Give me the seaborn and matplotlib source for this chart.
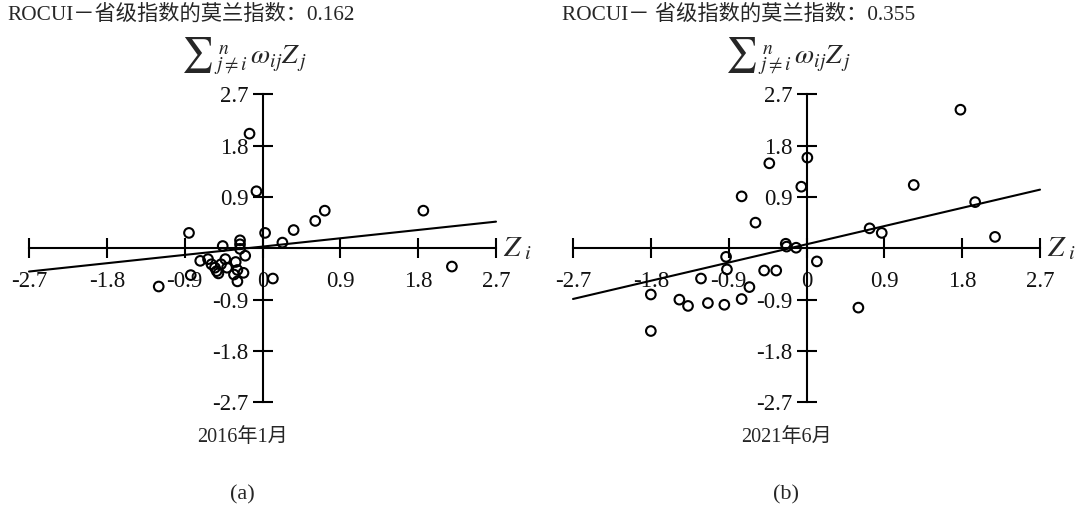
import numpy as np
import pandas as pd
import matplotlib
matplotlib.use("Agg")
import matplotlib.pyplot as plt
import seaborn as sns

# Standardised index (Z_i) and spatial lag (sum_j w_ij Z_j), 2016-01
z_2016 = [-0.15, -0.07, 0.03, 0.23, 0.36, 0.61, 0.72, 1.86, 2.19, 0.12,
          -0.85, -1.20, -0.46, -0.26, -0.26, -0.26, -0.20,
          -0.72, -0.63, -0.59, -0.55, -0.53, -0.51, -0.48, -0.43, -0.41,
          -0.31, -0.29, -0.22, -0.33, -0.29, -0.83]
lag_2016 = [2.01, 1.00, 0.27, 0.10, 0.32, 0.48, 0.66, 0.66, -0.32, -0.53,
            0.27, -0.67, 0.04, 0.14, 0.07, -0.01, -0.13,
            -0.22, -0.19, -0.28, -0.34, -0.40, -0.44, -0.28, -0.19, -0.34,
            -0.24, -0.38, -0.43, -0.46, -0.58, -0.47]

# Standardised index and spatial lag, 2021-06
z_2021 = [1.78, -0.43, 0.01, -0.06, -0.75, -0.59, -0.24, -0.23, -0.12, 0.12,
          -0.93, -0.92, -1.22, -0.49, -0.35, -0.66, -1.80, -1.47, -1.37, -1.14,
          -0.95, -0.75, 1.24, 1.95, 0.73, 0.87, 2.18, 0.60, -1.80]
lag_2021 = [2.43, 1.49, 1.59, 1.08, 0.91, 0.45, 0.08, 0.03, 0.01, -0.23,
            -0.15, -0.37, -0.53, -0.39, -0.39, -0.68, -0.81, -0.90, -1.01, -0.96,
            -0.99, -0.89, 1.11, 0.81, 0.35, 0.27, 0.20, -1.04, -1.45]

moran_i = [0.162, 0.355]
intercepts = [0.03, 0.07]
titles = ["ROCUI－省级指数的莫兰指数：0.162", "ROCUI－ 省级指数的莫兰指数：0.355"]
periods = ["2016年1月", "2021年6月"]
panel_tags = ["(a)", "(b)"]
tick_vals = [-2.7, -1.8, -0.9, 0, 0.9, 1.8, 2.7]
tick_text = ["-2.7", "-1.8", "-0.9", "0", "0.9", "1.8", "2.7"]

sns.set_theme(style="white")
plt.rcParams["font.family"] = ["Liberation Serif", "Noto Sans CJK SC"]
plt.rcParams["mathtext.fontset"] = "stix"
plt.rcParams["axes.unicode_minus"] = False

fig = plt.figure(figsize=(10.75, 5.08), dpi=100)
W, H = 1075.0, 508.0

panels = [
    (pd.DataFrame({"z": z_2016, "lag": lag_2016}), 29.0, 7.0),
    (pd.DataFrame({"z": z_2021, "lag": lag_2021}), 573.0, 562.0),
]

for k, (df, left_px, title_px) in enumerate(panels):
    width_px = 467.0
    ax = fig.add_axes([left_px / W, (H - 402.3) / H, width_px / W, 308.0 / H])
    ax.set_facecolor("none")
    ax.set_xlim(-2.7, 2.7)
    ax.set_ylim(-2.7, 2.7)

    for side in ("top", "right"):
        ax.spines[side].set_visible(False)
    for side in ("left", "bottom"):
        ax.spines[side].set_position(("data", 0))
        ax.spines[side].set_bounds(-2.7, 2.7)
        ax.spines[side].set_color("black")
        ax.spines[side].set_linewidth(1.5)

    ax.set_xticks(tick_vals)
    ax.set_xticklabels(tick_text)
    yt = [v for v in tick_vals if v != 0]
    ax.set_yticks(yt)
    ax.set_yticklabels([t for v, t in zip(tick_vals, tick_text) if v != 0])
    ax.tick_params(axis="both", direction="inout", length=14.4, width=1.5,
                   color="black", labelsize=16.5, labelcolor="#111111")
    ax.tick_params(axis="x", pad=9, bottom=True)
    ax.tick_params(axis="y", pad=3, left=True)
    ax.grid(False)

    # fitted line of the Moran scatter: slope equals Moran's I
    xs = np.array([-2.7, 2.7])
    line_df = pd.DataFrame({"x": xs, "y": moran_i[k] * xs + intercepts[k]})
    sns.lineplot(data=line_df, x="x", y="y", ax=ax, color="black",
                 linewidth=1.5, clip_on=False)

    sns.scatterplot(data=df, x="z", y="lag", ax=ax, marker="o", s=48,
                    facecolor="none", edgecolor="black", linewidth=1.5,
                    clip_on=False, zorder=3)
    ax.set_xlabel("")
    ax.set_ylabel("")

    cx_px = left_px + width_px / 2
    # horizontal axis name
    ax.text(2.78, 0.0, r"$Z_{\ i}$", fontsize=21, ha="left", va="center",
            transform=ax.transData)
    # vertical axis name: large summation sign followed by its terms
    fig.text((cx_px - 50) / W, 1 - 64 / H, "$∑$", fontsize=25,
             ha="right", va="baseline")
    fig.text((cx_px - 49) / W, 1 - 64 / H,
             r"$_{j\neq i}^{\,n}\,\omega_{ij}Z_{\,j}$",
             fontsize=20, ha="left", va="baseline")
    # panel titles and captions
    fig.text(title_px / W, 1 - 15 / H, titles[k], fontsize=15.3,
             ha="left", va="center")
    fig.text((cx_px - 20) / W, 1 - 437 / H, periods[k], fontsize=14.5,
             ha="center", va="center")
    fig.text((cx_px - 20) / W, 1 - 495 / H, panel_tags[k], fontsize=16,
             ha="center", va="center")

fig.savefig("out.png", dpi=100, facecolor="white")
